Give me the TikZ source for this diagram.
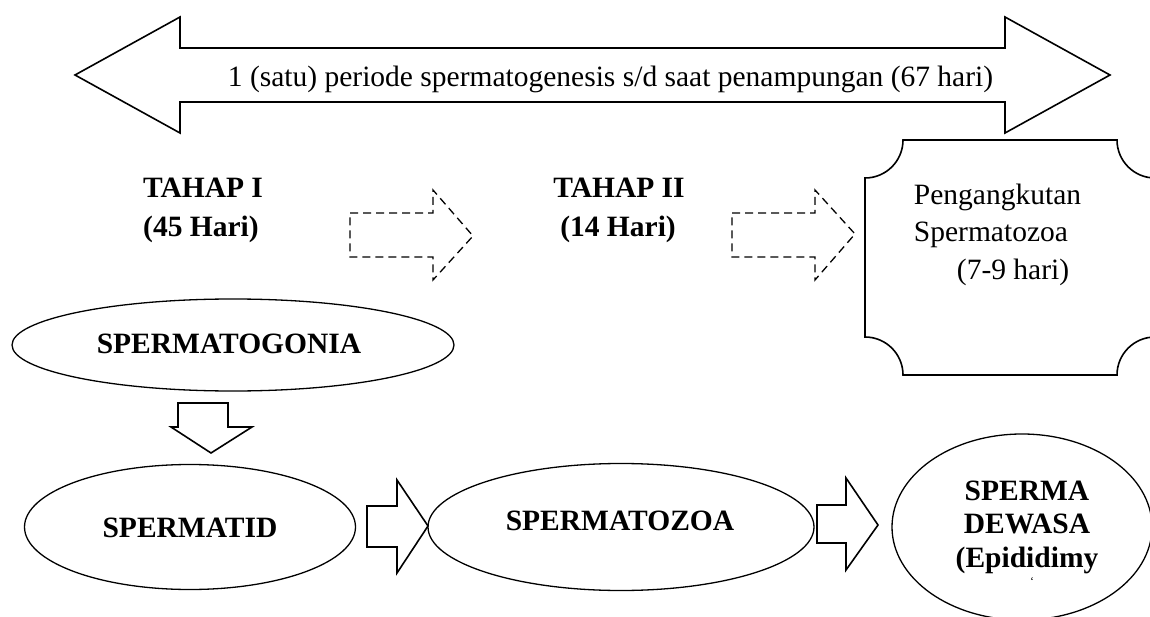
\documentclass[tikz,border=0pt]{standalone}
\usepackage{fontspec}
\setmainfont{Liberation Serif}
\usetikzlibrary{shapes.geometric}
\begin{document}
\begin{tikzpicture}[x=1pt,y=1pt,yscale=-1,xscale=1,
    every node/.style={inner sep=0.75pt,font=\fontsize{29.5}{37}\selectfont},
    blockarrow/.style={draw,line width=1.6pt,line join=miter},
    dasharrow/.style={draw,line width=1.3pt,dash pattern=on 8pt off 5pt},
    cell/.style={draw,ellipse,line width=1.3pt,inner sep=0pt}]
\useasboundingbox (0,0) rectangle (1150,617);
\clip (0,0) rectangle (1150,617);
%Shape: Left-Right Arrow
\draw [line width=1.6pt,line join=miter] (75,75) -- (180,17) -- (180,48) -- (1005,48) -- (1005,17) -- (1110,75) -- (1005,133) -- (1005,102) -- (180,102) -- (180,133) -- cycle ;
% Text Node
\draw (227,87) node (periode) [anchor=base west] {1 (satu) periode spermatogenesis s/d saat penampungan (67 hari)};
% Text Node
\draw (203,198) node (tahapA) [anchor=base] {\textbf{TAHAP I}};
\draw (201,237) node (tahapAday) [anchor=base] {\textbf{(45 Hari)}};
% Text Node
\draw (619,198) node (tahapB) [anchor=base] {\textbf{TAHAP II}};
\draw (618,237) node (tahapBday) [anchor=base] {\textbf{(14 Hari)}};
%Shape: Right Arrow (dashed)
\draw [dasharrow] (350,213) -- (433,213) -- (433,190) -- (473,236) -- (433,280) -- (433,257) -- (350,257) -- cycle ;
%Shape: Right Arrow (dashed)
\draw [dasharrow] (732,213) -- (815,213) -- (815,190) -- (855,234) -- (815,280) -- (815,257) -- (732,257) -- cycle ;
%Shape: Plaque
\draw [line width=1.6pt] (903,140) -- (1117,140) arc[start angle=180, end angle=90, radius=38] -- (1155,337) arc[start angle=270, end angle=180, radius=38] -- (903,375) arc[start angle=0, end angle=-90, radius=38] -- (865,178) arc[start angle=90, end angle=0, radius=38] -- cycle ;
% Text Node
\draw (913,205) node (angkut) [anchor=base west] {Pengangkutan};
\draw (913,242) node (angkutsp) [anchor=base west] {Spermatozoa};
\draw (956,280) node (angkutday) [anchor=base west] {(7-9 hari)};
%Shape: Ellipse
\node (gonia) [cell,minimum width=442pt,minimum height=92pt] at (233,345) {};
\draw (229,353) node (goniatxt) [anchor=base] {\textbf{SPERMATOGONIA}};
%Shape: Down Arrow
\draw [blockarrow] (178,403) -- (228,403) -- (228,427) -- (252,427) -- (211,453) -- (171,427) -- (178,427) -- cycle ;
%Shape: Ellipse
\node (tid) [cell,minimum width=331pt,minimum height=125pt] at (190,527) {};
\draw (190,537) node (tidtxt) [anchor=base] {\textbf{SPERMATID}};
%Shape: Right Arrow
\draw [blockarrow] (367,506) -- (397,506) -- (397,480) -- (428,526) -- (397,573) -- (397,547) -- (367,547) -- cycle ;
%Shape: Ellipse
\node (zoa) [cell,minimum width=386pt,minimum height=127pt] at (621,527) {};
\draw (620,530) node (zoatxt) [anchor=base] {\textbf{SPERMATOZOA}};
%Shape: Right Arrow
\draw [blockarrow] (817,505) -- (846,505) -- (846,478) -- (878,525) -- (846,570) -- (846,543) -- (817,543) -- cycle ;
%Shape: Ellipse
\node (dewasa) [cell,minimum width=260pt,minimum height=186pt] at (1022,527) {};
\draw (1027,500) node (dewasaA) [anchor=base] {\textbf{SPERMA}};
\draw (1027,533) node (dewasaB) [anchor=base] {\textbf{DEWASA}};
\draw (1027,567) node (dewasaC) [anchor=base] {\textbf{(Epididimy}};
\draw (1032,585) node (dewasaD) [anchor=base] {\fontsize{12}{12}\selectfont `};
\end{tikzpicture}
\end{document}
